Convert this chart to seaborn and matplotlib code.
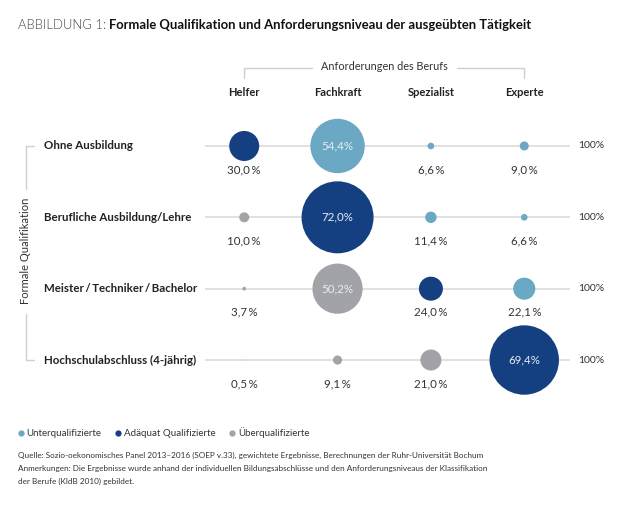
import matplotlib
matplotlib.use("Agg")
import matplotlib.pyplot as plt
from matplotlib.lines import Line2D
import seaborn as sns
import pandas as pd

# data
requirements = ["Helfer", "Fachkraft", "Spezialist", "Experte"]
qualifications = [
    "Ohne Ausbildung",
    "Berufliche Ausbildung/Lehre",
    "Meister\u2009/\u2009Techniker\u2009/\u2009Bachelor",
    "Hochschulabschluss (4-jährig)",
]
shares_ohne = [30.0, 54.4, 6.6, 9.0]
shares_beruf = [10.0, 72.0, 11.4, 6.6]
shares_meister = [3.7, 50.2, 24.0, 22.1]
shares_hochschule = [0.5, 9.1, 21.0, 69.4]
groups_ohne = ["Adäquat Qualifizierte", "Unterqualifizierte", "Unterqualifizierte", "Unterqualifizierte"]
groups_beruf = ["Überqualifizierte", "Adäquat Qualifizierte", "Unterqualifizierte", "Unterqualifizierte"]
groups_meister = ["Überqualifizierte", "Überqualifizierte", "Adäquat Qualifizierte", "Unterqualifizierte"]
groups_hochschule = ["Überqualifizierte", "Überqualifizierte", "Überqualifizierte", "Adäquat Qualifizierte"]
legend_order = ["Unterqualifizierte", "Adäquat Qualifizierte", "Überqualifizierte"]

palette = {
    "Unterqualifizierte": "#6aa8c3",
    "Adäquat Qualifizierte": "#143f80",
    "Überqualifizierte": "#a2a3a6",
}

W, H = 636, 508


def fx(px):
    return px / W


def fy(py):
    return 1 - py / H


def fmt(v, inside=False):
    s = f"{v:.1f}".replace(".", ",")
    return s + "%" if inside else s + "\u2009%"


all_shares = [shares_ohne, shares_beruf, shares_meister, shares_hochschule]
all_groups = [groups_ohne, groups_beruf, groups_meister, groups_hochschule]
rows = []
for q, shares, groups in zip(qualifications, all_shares, all_groups):
    for r, v, g in zip(requirements, shares, groups):
        rows.append({"Anforderung": r, "Qualifikation": q, "Anteil": v, "Gruppe": g})
df = pd.DataFrame(rows)

sns.set_theme(style="white")
plt.rcParams["font.family"] = ["Lato", "DejaVu Sans"]

fig = plt.figure(figsize=(W / 100, H / 100), dpi=100)
ax_left, ax_right = 205, 570
ax_top, ax_bottom = 110.3, 395.7
ax = fig.add_axes([fx(ax_left), fy(ax_bottom), (ax_right - ax_left) / W, (ax_bottom - ax_top) / H])

# bubble diameter in pixels equals the share value
size_map = {v: (v * 0.72) ** 2 for v in df["Anteil"].unique()}
sns.scatterplot(
    data=df, x="Anforderung", y="Qualifikation",
    hue="Gruppe", palette=palette,
    size="Anteil", sizes=size_map,
    linewidth=0, legend=False, ax=ax, zorder=3, clip_on=False,
)

ax.set_xlim(-0.42, 3.49)
ax.set_ylim(3.5, -0.5)
for spine in ax.spines.values():
    spine.set_visible(False)
ax.set_xlabel("")
ax.set_ylabel("")

for i, q in enumerate(qualifications):
    ax.axhline(i, color="#dcdcdc", linewidth=1.2, zorder=1)

# column headers on top
ax.xaxis.tick_top()
ax.set_xticks(range(len(requirements)))
ax.set_xticklabels(requirements, fontsize=8, fontweight="bold", color="#222222")
ax.tick_params(axis="x", length=0, pad=9)
ax.set_yticks([])

ytrans = ax.get_yaxis_transform()
for i, (q, shares) in enumerate(zip(qualifications, all_shares)):
    ax.text(-0.441, i, q, transform=ytrans, ha="left", va="center",
            fontsize=8.3, fontweight="bold", color="#222222")
    ax.text(1.058, i, "100%", transform=ytrans, ha="center", va="center",
            fontsize=7.5, color="#333333")
    for j, v in enumerate(shares):
        if v > 40:
            ax.text(j, i, fmt(v, inside=True), ha="center", va="center",
                    fontsize=8.3, color="#e8eef4", zorder=4)
        else:
            ax.text(j, i + 0.33, fmt(v), ha="center", va="center",
                    fontsize=8.3, color="#333333")

# title
t1 = fig.text(fx(18), fy(25), "ABBILDUNG 1:", fontsize=9.4, fontweight=300,
              color="#444444", va="center", ha="left")
fig.canvas.draw()
bb = t1.get_window_extent()
fig.text(fx(bb.x1 + 3), fy(25), "Formale Qualifikation und Anforderungsniveau der ausgeübten Tätigkeit",
         fontsize=9.4, fontweight="bold", color="#111111", va="center", ha="left")

# top bracket
line_kw = dict(color="#cfcfcf", linewidth=1.0)
fig.text(fx(384), fy(67), "Anforderungen des Berufs", fontsize=7.8, color="#333333",
         ha="center", va="center")
fig.add_artist(Line2D([fx(244), fx(244), fx(312)], [fy(78), fy(68), fy(68)], **line_kw))
fig.add_artist(Line2D([fx(457), fx(524), fx(524)], [fy(68), fy(68), fy(78)], **line_kw))

# left bracket
fig.text(fx(26), fy(251), "Formale Qualifikation", fontsize=8, color="#333333",
         rotation=90, ha="center", va="center")
fig.add_artist(Line2D([fx(34), fx(26), fx(26)], [fy(146), fy(146), fy(189)], **line_kw))
fig.add_artist(Line2D([fx(26), fx(26), fx(34)], [fy(314), fy(360), fy(360)], **line_kw))

# legend
handles = [Line2D([0], [0], marker="o", linestyle="", markersize=4.5,
                  markerfacecolor=palette[g], markeredgewidth=0) for g in legend_order]
fig.legend(handles, legend_order, loc="center left", bbox_to_anchor=(fx(12), fy(433)),
           ncol=3, frameon=False, fontsize=7, handletextpad=0.1, columnspacing=1.2,
           handlelength=1.0, labelcolor="#333333", borderaxespad=0)

# source notes
notes = [
    "Quelle: Sozio-oekonomisches Panel 2013\u20132016 (SOEP v.33), gewichtete Ergebnisse, Berechnungen der Ruhr-Universität Bochum",
    "Anmerkungen: Die Ergebnisse wurde anhand der individuellen Bildungsabschlüsse und den Anforderungsniveaus der Klassifikation",
    "der Berufe (KldB 2010) gebildet.",
]
for k, line in enumerate(notes):
    fig.text(fx(18), fy(455 + 13 * k), line, fontsize=5.9, color="#333333", va="center", ha="left")

fig.savefig("out.png", dpi=100, facecolor="white")
